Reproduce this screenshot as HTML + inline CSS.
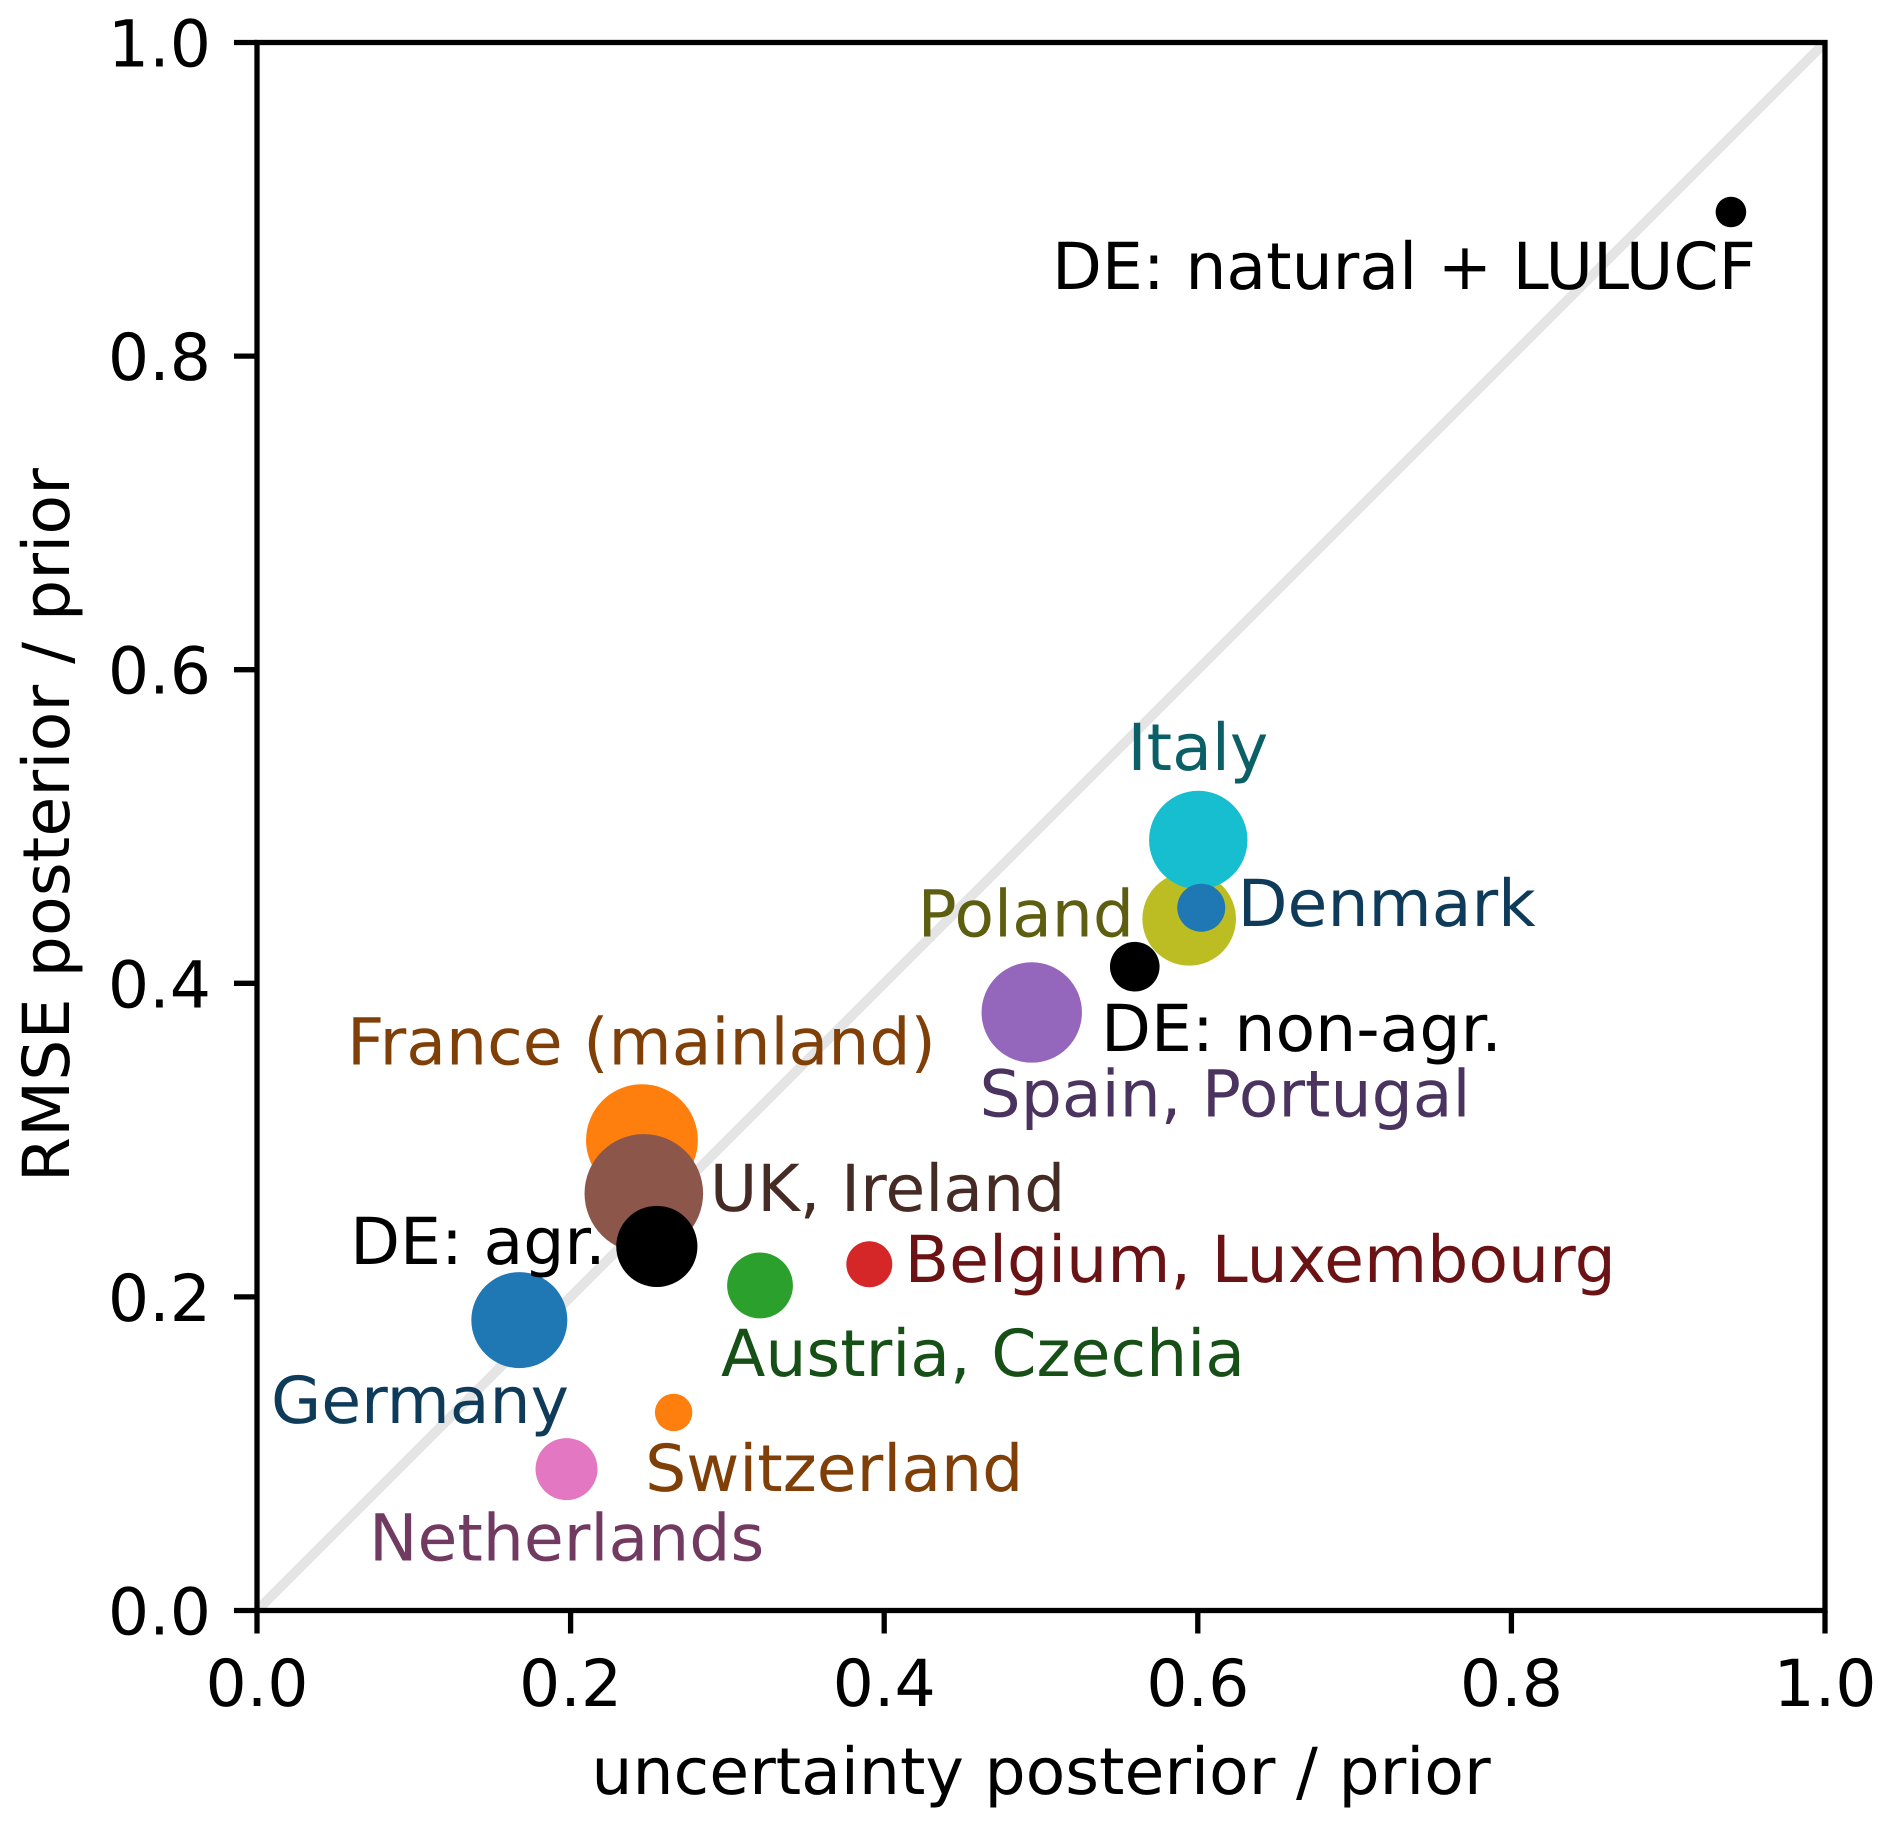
<!DOCTYPE html>
<html lang="en">
<head>
<meta charset="utf-8">
<title>RMSE vs uncertainty scatter</title>
<style>
html,body{margin:0;padding:0;background:#fff;}
#chart{display:block;width:1892px;height:1827px;}
text{font-family:"DejaVu Sans","Liberation Sans",sans-serif;font-size:64.85px;text-rendering:geometricPrecision;}
</style>
</head>
<body>
<svg id="chart" xmlns="http://www.w3.org/2000/svg" width="1892" height="1827" viewBox="0 0 1892 1827">
<rect x="0" y="0" width="1892" height="1827" fill="#ffffff"></rect>
<g id="diagonal-layer"></g>
<g id="point-layer"></g>
<g id="label-layer"></g>
<g id="axis-layer"></g>
<text x="1041" y="1794" text-anchor="middle" fill="#000">uncertainty posterior / prior</text>
<text transform="translate(69,825) rotate(-90)" text-anchor="middle" fill="#000" letter-spacing="0.2">RMSE posterior / prior</text>
</svg>
<script>
const regions = ["Germany","France (mainland)","Austria, Czechia","Belgium, Luxembourg","Spain, Portugal","UK, Ireland","Netherlands","Poland","Italy","Denmark","Switzerland","DE: agr.","DE: non-agr.","DE: natural + LULUCF"];
const uncertaintyRatio = [0.1673,0.2455,0.3208,0.3905,0.4941,0.2467,0.1974,0.5945,0.6003,0.6022,0.2657,0.2550,0.5598,0.9400];
const rmseRatio = [0.1852,0.3000,0.2073,0.2208,0.3814,0.2660,0.0902,0.4411,0.4914,0.4482,0.1263,0.2322,0.4106,0.8919];
const bubbleSize = [2304,3125,1082,529,2520,3516,961,2190,2421,576,350,1648,615,234];
const pointColors = ["#1f77b4","#ff7f0e","#2ca02c","#d62728","#9467bd","#8c564b","#e377c2","#bcbd22","#17becf","#1f77b4","#ff7f0e","#000000","#000000","#000000"];
const labelColors = ["#0f3b5a","#7f3f07","#165016","#6b1314","#4a335e","#462b25","#713b61","#5e5e11","#0b5f67","#0f3b5a","#7f3f07","#000000","#000000","#000000"];
const labelXData = [0.0089,0.0574,0.2959,0.4130,0.4608,0.2888,0.0714,0.4213,0.5552,0.6254,0.2475,0.0594,0.5383,0.5070];
const labelYData = [0.1197,0.3483,0.1497,0.2095,0.3149,0.2548,0.0319,0.4300,0.5360,0.4365,0.0762,0.2211,0.3568,0.8428];
const xTicks = [0,0.2,0.4,0.6,0.8,1];
const yTicks = [0,0.2,0.4,0.6,0.8,1];
const tickLabels = ["0.0","0.2","0.4","0.6","0.8","1.0"];

const SVG_NS = "http://www.w3.org/2000/svg";
const plotLeft = 257, plotRight = 1825, plotTop = 42.5, plotBottom = 1610.5;
const scaleX = v => plotLeft + v * (plotRight - plotLeft);
const scaleY = v => plotBottom - v * (plotBottom - plotTop);
const radiusOf = s => Math.sqrt(s);

function make(tag, attrs, parent) {
  const el = document.createElementNS(SVG_NS, tag);
  for (const k in attrs) el.setAttribute(k, attrs[k]);
  parent.appendChild(el);
  return el;
}

const diagonalLayer = document.getElementById("diagonal-layer");
const pointLayer = document.getElementById("point-layer");
const labelLayer = document.getElementById("label-layer");
const axisLayer = document.getElementById("axis-layer");

const clip = make("clipPath", {id: "plot-clip"}, diagonalLayer);
make("rect", {x: plotLeft, y: plotTop, width: plotRight - plotLeft, height: plotBottom - plotTop}, clip);
const diagonal = make("line", {x1: scaleX(0), y1: scaleY(0), x2: scaleX(1), y2: scaleY(1), stroke: "#e5e5e5", "stroke-width": 9.9, "clip-path": "url(#plot-clip)"}, diagonalLayer);



regions.forEach((name, i) => {
  const slug = name.toLowerCase().replace(/[^a-z]+/g, "-").replace(/-$/, "");
  const point = make("circle", {cx: scaleX(uncertaintyRatio[i]), cy: scaleY(rmseRatio[i]), r: radiusOf(bubbleSize[i]), fill: pointColors[i]}, pointLayer);
  
  
  const label = make("text", {x: scaleX(labelXData[i]), y: scaleY(labelYData[i]), fill: labelColors[i]}, labelLayer);
  label.textContent = name;
  
  
});

xTicks.forEach((v, i) => {
  const tick = make("line", {x1: scaleX(v), x2: scaleX(v), y1: plotBottom, y2: plotBottom + 23, stroke: "#000", "stroke-width": 5.3}, axisLayer);
  
  
  const text = make("text", {x: scaleX(v), y: 1706, "text-anchor": "middle", fill: "#000"}, axisLayer);
  text.textContent = tickLabels[i];
  
  
});
yTicks.forEach((v, i) => {
  const tick = make("line", {x1: plotLeft - 23, x2: plotLeft, y1: scaleY(v), y2: scaleY(v), stroke: "#000", "stroke-width": 5.3}, axisLayer);
  
  
  const text = make("text", {x: 211, y: scaleY(v) + 24, "text-anchor": "end", fill: "#000"}, axisLayer);
  text.textContent = tickLabels[i];
  
  
});

const frame = make("rect", {x: plotLeft, y: plotTop, width: plotRight - plotLeft, height: plotBottom - plotTop, fill: "none", stroke: "#000", "stroke-width": 5.3, "stroke-linejoin": "miter"}, axisLayer);


</script>
</body>
</html>
